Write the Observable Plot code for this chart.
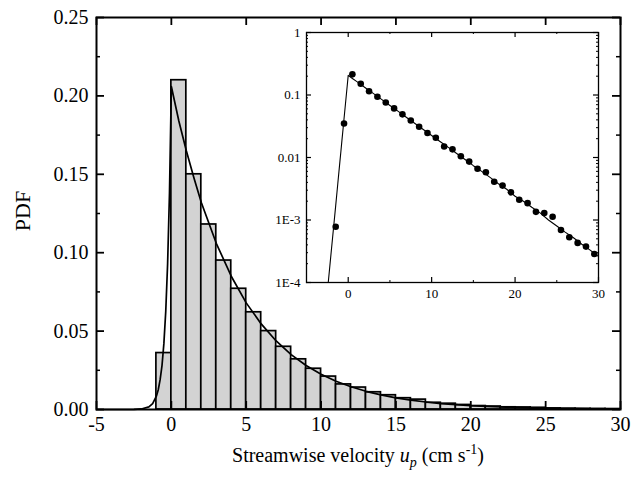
<!DOCTYPE html>
<html><head><meta charset="utf-8">
<script src="https://cdn.jsdelivr.net/npm/d3@7"></script>
<script src="https://cdn.jsdelivr.net/npm/@observablehq/plot@0.6"></script>
<style>body{margin:0;background:#fff;}</style>
</head><body><div id="chart"></div>
<script>
// Histogram (main panel): left edge of each 1 cm/s bin and its PDF value
const binLeft = [-1,0,1,2,3,4,5,6,7,8,9,10,11,12,13,14,15,16,17,18,19,20,21,22,23,24,25,26,27,28,29];
const binPdf  = [0.036,0.210,0.150,0.118,0.095,0.077,0.062,0.050,0.040,0.032,0.026,0.021,0.016,0.014,0.011,0.0091,0.0072,0.0063,0.0043,0.0037,0.0029,0.0022,0.0019,0.0014,0.0013,0.0011,0.0007,0.00055,0.00044,0.00038,0.00029];

// Fitted curve
const curveX = [-5,-4,-3,-2.5,-2,-1.5,-1.25,-1,-0.875,-0.75,-0.625,-0.5,-0.375,-0.25,-0.125,0,0.5,1,1.5,2,3,4,5,6,7,8,9,10,11,12,13,14,15,16,17,18,19,20,21,22,23,24,25,26,27,28,29,30];
const curveY = [0,0.0000006,0.000014,0.000071,0.00035,0.0017,0.0038,0.0085,0.0126,0.019,0.028,0.042,0.0625,0.093,0.138,0.206,0.184,0.165,0.148,0.132,0.106,0.085,0.068,0.0546,0.0437,0.035,0.0281,0.0225,0.018,0.0145,0.0116,0.0093,0.0074,0.006,0.0048,0.0038,0.0031,0.0024,0.002,0.0016,0.0013,0.001,0.0008,0.00064,0.00052,0.00041,0.00033,0.00026];

// Inset: bin centres and PDF values (log scale)
const insetX   = [-1.5,-0.5,0.5,1.5,2.5,3.5,4.5,5.5,6.5,7.5,8.5,9.5,10.5,11.5,12.5,13.5,14.5,15.5,16.5,17.5,18.5,19.5,20.5,21.5,22.5,23.5,24.5,25.5,26.5,27.5,28.5,29.5];
const insetPdf = [0.00078,0.035,0.214,0.151,0.115,0.094,0.076,0.061,0.049,0.039,0.031,0.0246,0.0207,0.0150,0.0135,0.0105,0.0086,0.0066,0.0058,0.0041,0.00355,0.00277,0.00211,0.00186,0.00135,0.00129,0.00113,0.00069,0.00053,0.00043,0.000375,0.000286];

const xTicks = [-5,0,5,10,15,20,25,30];
const yTicks = [0,0.05,0.10,0.15,0.20,0.25];
const yMinor = [0.025,0.075,0.125,0.175,0.225];
const insetXTicks = [0,10,20,30];
const insetXMinor = [5,15,25];
const insetYTicks = [1,0.1,0.01,0.001,0.0001];
const insetYLabels = ["1","0.1","0.01","1E-3","1E-4"];

const hist = binLeft.map((x0,i)=>({x0, x1: x0+1, pdf: binPdf[i]}));
const curve = curveX.map((x,i)=>({x, y: curveY[i]}));
const pts = insetX.map((x,i)=>({x, y: insetPdf[i]}));
const insetMinorY = [];
insetYTicks.forEach(t => { if (t < 1) for (let k = 2; k <= 9; k++) insetMinorY.push(t*k); });

const font = "'Liberation Serif', 'Times New Roman', serif";

// inward tick helpers (tick spans the frame; inset leaves only `len` pixels at one edge)
function ticksX(values, fh, len, sw) {
  return [
    Plot.tickX(values, {x: d => d, insetTop: fh - len, stroke: "black", strokeWidth: sw}),
    Plot.tickX(values, {x: d => d, insetBottom: fh - len, stroke: "black", strokeWidth: sw})
  ];
}
function ticksY(values, fw, len, sw) {
  return [
    Plot.tickY(values, {y: d => d, insetRight: fw - len, stroke: "black", strokeWidth: sw}),
    Plot.tickY(values, {y: d => d, insetLeft: fw - len, stroke: "black", strokeWidth: sw})
  ];
}

const M = {w: 632, h: 478, l: 96, r: 12, t: 17, b: 69};
const mfw = M.w - M.l - M.r, mfh = M.h - M.t - M.b;

const main = Plot.plot({
  width: M.w, height: M.h,
  marginLeft: M.l, marginRight: M.r, marginTop: M.t, marginBottom: M.b,
  style: {fontFamily: font, background: "white", color: "black"},
  x: {domain: [-5, 30]},
  y: {domain: [0, 0.25]},
  marks: [
    Plot.rectY(hist, {x1: "x0", x2: "x1", y: "pdf", fill: "#d3d3d3", stroke: "black", strokeWidth: 1.7}),
    Plot.line(curve, {x: "x", y: "y", stroke: "black", strokeWidth: 1.7}),
    ...ticksX(xTicks, mfh, 8, 1.8),
    ...ticksY(yTicks, mfw, 8, 1.8),
    ...ticksY(yMinor, mfw, 4, 1.5),
    Plot.frame({stroke: "black", strokeWidth: 2}),
    Plot.axisX({anchor: "bottom", ticks: xTicks, tickSize: 0, tickPadding: 7, fontSize: 20, label: null, tickFormat: d => String(d)}),
    Plot.axisY({anchor: "left", ticks: yTicks, tickSize: 0, tickPadding: 8, fontSize: 20, label: null, tickFormat: d3.format(".2f")})
  ]
});

const I = {w: 352, h: 290, l: 50, r: 10, t: 15, b: 25};
const ifw = I.w - I.l - I.r, ifh = I.h - I.t - I.b;

const inset = Plot.plot({
  width: I.w, height: I.h,
  marginLeft: I.l, marginRight: I.r, marginTop: I.t, marginBottom: I.b,
  style: {fontFamily: font, color: "black", overflow: "visible"},
  x: {domain: [-5, 30]},
  y: {type: "log", domain: [0.0001, 1]},
  marks: [
    Plot.line(curve.filter(d => d.y > 0), {x: "x", y: "y", stroke: "black", strokeWidth: 1.1, clip: true}),
    Plot.dot(pts, {x: "x", y: "y", r: 3.3, fill: "black"}),
    ...ticksX(insetXTicks, ifh, 5, 1.2),
    ...ticksX(insetXMinor, ifh, 2, 1),
    ...ticksY(insetYTicks, ifw, 5, 1.2),
    ...ticksY(insetMinorY, ifw, 2, 1),
    Plot.frame({stroke: "black", strokeWidth: 1.3}),
    Plot.axisX({anchor: "bottom", ticks: insetXTicks, tickSize: 0, tickPadding: 6, fontSize: 13, label: null, tickFormat: d => String(d)}),
    Plot.axisY({anchor: "left", ticks: insetYTicks, tickSize: 0, tickPadding: 6, fontSize: 13, label: null, tickFormat: d => insetYLabels[insetYTicks.indexOf(d)]})
  ]
});

inset.setAttribute("x", 256);
inset.setAttribute("y", 17);
inset.style.width = I.w + "px";
inset.style.height = I.h + "px";
inset.style.maxWidth = "none";
main.appendChild(inset);

const svg = d3.select(main);
const lab = svg.append("text")
  .attr("x", M.l + mfw / 2).attr("y", 462)
  .attr("text-anchor", "middle").attr("font-size", 20)
  .attr("font-family", font).attr("fill", "black");
lab.append("tspan").text("Streamwise velocity ");
lab.append("tspan").attr("font-style", "italic").text("u");
lab.append("tspan").attr("font-style", "italic").attr("font-size", 14).attr("dy", 5).text("p");
lab.append("tspan").attr("dy", -5).text(" (cm s");
lab.append("tspan").attr("font-size", 14).attr("dy", -8).text("-1");
lab.append("tspan").attr("dy", 8).text(")");

svg.append("text")
  .attr("transform", "translate(30,211) rotate(-90)")
  .attr("text-anchor", "middle").attr("font-size", 22)
  .attr("font-family", font).attr("fill", "black")
  .text("PDF");

document.getElementById("chart").appendChild(main);
</script>
</body></html>
